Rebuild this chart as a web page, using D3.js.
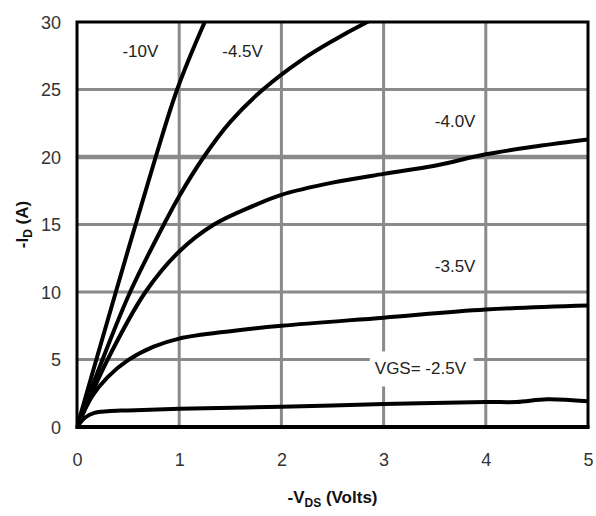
<!DOCTYPE html>
<html><head><meta charset="utf-8">
<script src="https://cdn.jsdelivr.net/npm/d3@7"></script>
<style>body{margin:0;background:#fff}svg{display:block}text{font-family:"Liberation Sans",Arial,sans-serif}</style>
</head><body><div id="chart"></div>
<script>
const xTicks = [0,1,2,3,4,5];
const yTicks = [0,5,10,15,20,25,30];
const seriesNames = ["-10V","-4.5V","-4.0V","-3.5V","VGS= -2.5V"];
const vgs10 = [[0,0],[0.38,10],[0.77,20],[0.98,25],[1.25,30],[1.3,30.8]];
const vgs45 = [[0,0],[0.25,5],[0.52,10],[0.85,15],[1.0,17.1],[1.24,20],[1.5,22.6],[1.82,25],[2.2,27.2],[2.5,28.6],[2.84,30],[2.95,30.4]];
const vgs40 = [[0,0],[0.3,5],[0.67,10],[1,13],[1.34,15],[1.73,16.4],[2,17.2],[2.5,18.1],[3,18.75],[3.5,19.35],[4,20.2],[4.5,20.8],[5,21.3]];
const vgs35 = [[0,0],[0.15,2.3],[0.3,3.7],[0.5,4.95],[0.75,5.95],[1,6.55],[1.5,7.1],[2,7.5],[3,8.1],[4,8.7],[5,9.0]];
const vgs25 = [[0,0],[0.08,0.7],[0.17,1.05],[0.3,1.17],[0.5,1.23],[1,1.35],[2,1.5],[3,1.7],[4,1.85],[4.3,1.85],[4.6,2.05],[5,1.9]];
const allSeries = [vgs10, vgs45, vgs40, vgs35, vgs25];
const labelPos = [[0.62,27.8],[1.62,27.8],[3.7,22.6],[3.7,11.9],[3.36,4.3]];

const W=596,H=516;
const m={l:77,r:8,t:22,b:89};
const svg=d3.select("#chart").append("svg").attr("width",W).attr("height",H);
const x=d3.scaleLinear().domain([0,5]).range([m.l,W-m.r]);
const y=d3.scaleLinear().domain([0,30]).range([H-m.b,m.t]);

// gridlines
const g=svg.append("g");
g.selectAll(".vg").data(xTicks.slice(1,-1)).enter().append("line")
 .attr("x1",d=>x(d)).attr("x2",d=>x(d)).attr("y1",y(30)).attr("y2",y(0))
 .attr("stroke","#8a8a8a").attr("stroke-width",3);
g.selectAll(".hg").data(yTicks.slice(1,-1)).enter().append("line")
 .attr("x1",x(0)).attr("x2",x(5)).attr("y1",d=>y(d)).attr("y2",d=>y(d))
 .attr("stroke","#8a8a8a").attr("stroke-width",d=>d===20?4.5:3);

// labels with white background
const lg=svg.append("g");
seriesNames.forEach((n,i)=>{
  const t=lg.append("text").attr("x",x(labelPos[i][0])).attr("y",y(labelPos[i][1]))
    .attr("text-anchor","middle").attr("dominant-baseline","central")
    .attr("font-size",17).attr("fill","#222").text(n);
  const b=t.node().getBBox();
  if(i>=2){
    lg.insert("rect","text").attr("x",b.x-5).attr("y",b.y-8).attr("width",b.width+12).attr("height",b.height+16).attr("fill","#fff");
  }
});

// curves
const line=d3.line().x(d=>x(d[0])).y(d=>y(d[1])).curve(d3.curveCatmullRom.alpha(0.5));
svg.append("clipPath").attr("id","clip").append("rect")
 .attr("x",x(0)).attr("y",y(30)).attr("width",x(5)-x(0)).attr("height",y(0)-y(30));
svg.append("g").attr("clip-path","url(#clip)").selectAll("path").data(allSeries).enter().append("path")
 .attr("d",line).attr("fill","none").attr("stroke","#000").attr("stroke-width",4).attr("stroke-linejoin","round").attr("stroke-linecap","round");

// border
svg.append("rect").attr("x",x(0)).attr("y",y(30)).attr("width",x(5)-x(0)).attr("height",y(0)-y(30))
 .attr("fill","none").attr("stroke","#000").attr("stroke-width",3);
svg.append("line").attr("x1",x(0)-1.5).attr("x2",x(5)+1.5).attr("y1",y(0)).attr("y2",y(0)).attr("stroke","#000").attr("stroke-width",4);

// axes
const xa=svg.append("g").attr("transform",`translate(0,${y(0)+36})`)
 .call(d3.axisBottom(x).tickValues(xTicks).tickSize(0).tickFormat(d3.format("d")));
xa.select(".domain").remove();
xa.selectAll("text").attr("font-size",18).attr("fill","#333").attr("font-family","Liberation Sans, Arial, sans-serif").attr("dy","0");
const ya=svg.append("g").attr("transform",`translate(${x(0)-16},0)`)
 .call(d3.axisLeft(y).tickValues(yTicks).tickSize(0).tickFormat(d3.format("d")));
ya.select(".domain").remove();
ya.selectAll("text").attr("font-size",18).attr("fill","#333").attr("font-family","Liberation Sans, Arial, sans-serif").attr("dy","0.35em").attr("x",0);

// axis titles
const xt=svg.append("text").attr("x",(x(0)+x(5))/2).attr("y",503).attr("text-anchor","middle")
 .attr("font-size",17).attr("font-weight","bold").attr("fill","#111");
xt.append("tspan").text("-V");
xt.append("tspan").attr("font-size",12).attr("dy",4).text("DS");
xt.append("tspan").attr("dy",-4).text(" (Volts)");
const yt=svg.append("text").attr("transform",`translate(28,${(y(0)+y(30))/2}) rotate(-90)`).attr("text-anchor","middle")
 .attr("font-size",17).attr("font-weight","bold").attr("fill","#111");
yt.append("tspan").text("-I");
yt.append("tspan").attr("font-size",12).attr("dy",4).text("D");
yt.append("tspan").attr("dy",-4).text(" (A)");
</script></body></html>
